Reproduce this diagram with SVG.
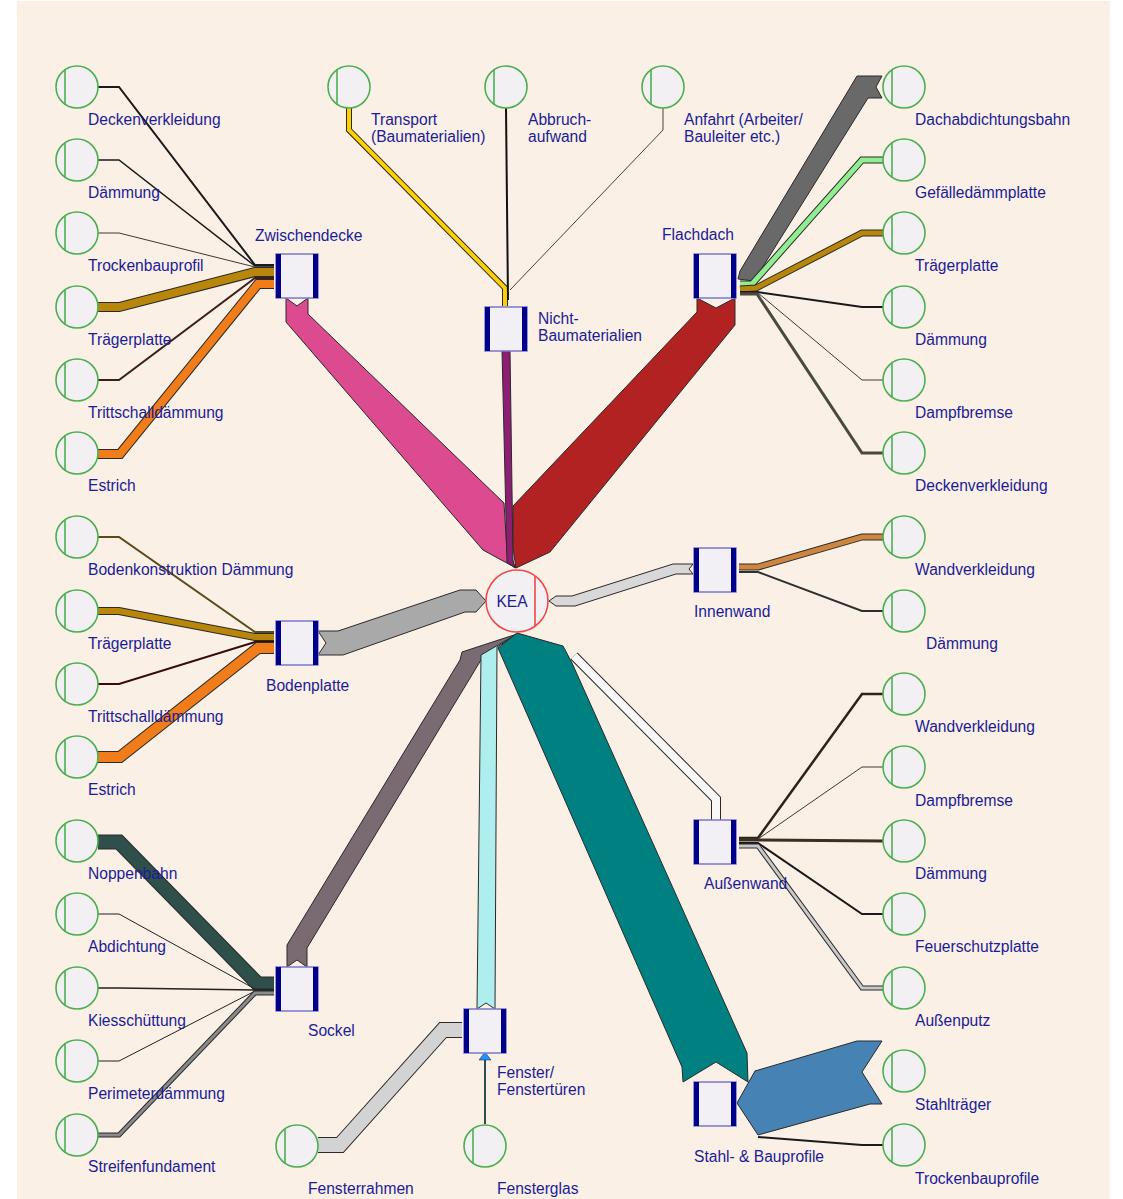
<svg xmlns="http://www.w3.org/2000/svg" width="1123" height="1199" viewBox="0 0 1123 1199">
<style>
.src{fill:#F2F0F3;stroke:#4CAF50;stroke-width:1.6}
.ch{stroke:#4CAF50;stroke-width:1.6}
.kea{fill:#F2F0F3;stroke:#F04848;stroke-width:1.6}
.kch{stroke:#F04848;stroke-width:1.6}
.box{fill:#F2F0F4;stroke:#7878CC;stroke-width:1.5}
.bar{fill:#00008B}
.t{font-family:"Liberation Sans",Arial,sans-serif;font-size:15.6px;fill:#1C1C96}
.ol{fill:none;stroke:#2A2A2A;stroke-linejoin:miter;stroke-miterlimit:10}
.fl{fill:none;stroke-linejoin:miter;stroke-miterlimit:10}
.bd{stroke:#2A2A2A;stroke-width:1;stroke-linejoin:miter}
</style>
<defs>
<g id="sc"><circle class="src" cx="0" cy="0" r="21"/><line class="ch" x1="-12" y1="-17.2" x2="-12" y2="17.2"/></g>
<g id="bx"><rect class="box" x="0" y="0" width="42" height="44"/><rect class="bar" x="0" y="0" width="5" height="44"/><rect class="bar" x="37" y="0" width="5" height="44"/></g>
</defs>
<rect x="0" y="0" width="1123" height="1199" fill="#FFFFFF"/>
<rect x="17" y="1" width="1093" height="1198" fill="#FAF0E6"/>

<g id="connectors">
<!-- Zwischendecke inputs -->
<polyline class="fl" points="98,87 119,87 255,265 274,265" stroke="#1A1A1A" stroke-width="2"/>
<polyline class="fl" points="98,160 119,160 255,266 274,266" stroke="#1A1A1A" stroke-width="1.5"/>
<polyline class="fl" points="98,233 119,233 255,267 274,267" stroke="#3A3A3A" stroke-width="1"/>
<polyline class="ol" points="98,307 119,307 255,272 274,272" stroke-width="10"/>
<polyline class="fl" points="98,307 119,307 255,272 274,272" stroke="#B8860B" stroke-width="8"/>
<polyline class="fl" points="98,380 119,380 255,278 274,278" stroke="#3B1E1E" stroke-width="2"/>
<polyline class="ol" points="98,454 120,454 258,284 274,284" stroke-width="10"/>
<polyline class="fl" points="98,454 120,454 258,284 274,284" stroke="#F07D1A" stroke-width="8"/>
<!-- Pink Zwischendecke -> KEA -->
<polygon class="bd" fill="#DC4A90" points="286,298 297,306 308,298 308,314 504,503 507,552 516,568 483,550 286,322"/>
<!-- Nicht-Baumaterialien inputs -->
<polyline class="ol" points="349,108 349,130 505,288 505,306" stroke-width="6"/>
<polyline class="fl" points="349,108 349,130 505,288 505,306" stroke="#FFD000" stroke-width="4"/>
<polyline class="fl" points="506,108 508,300" stroke="#111111" stroke-width="2"/>
<polyline class="fl" points="663,108 663,130 510,290" stroke="#444444" stroke-width="1"/>
<!-- Purple -->
<polygon class="bd" fill="#8E1E74" points="502,350 510,350 513,560 515,568 507,562"/>
<!-- Red Flachdach -> KEA -->
<polygon class="bd" fill="#B22222" points="697,298 716,308 735,298 735,325 550,552 516,568 513,548 513,506 697,312"/>
<!-- Flachdach inputs -->
<polygon class="bd" fill="#696969" points="857,76 882,76 876,87 882,98 868,98 754,281 738,279 740,271"/>
<polyline class="ol" points="883,160 862,160 752,284 740,284" stroke-width="7"/>
<polyline class="fl" points="883,160 862,160 752,284 740,284" stroke="#90EE90" stroke-width="5"/>
<polyline class="ol" points="883,233 862,233 756,288 740,289" stroke-width="7"/>
<polyline class="fl" points="883,233 862,233 756,288 740,289" stroke="#B8860B" stroke-width="5"/>
<polyline class="fl" points="883,307 862,307 757,292 740,292" stroke="#1A1A1A" stroke-width="2"/>
<polyline class="fl" points="883,380 862,380 758,293 740,293" stroke="#3A3A3A" stroke-width="1"/>
<polyline class="fl" points="883,453 862,453 757,294 740,294" stroke="#4A4A3A" stroke-width="3"/>
<!-- Bodenplatte inputs -->
<polyline class="fl" points="98,537 119,537 255,632 274,632" stroke="#5C4A1A" stroke-width="2"/>
<polyline class="ol" points="98,611 119,611 255,637 274,637" stroke-width="8"/>
<polyline class="fl" points="98,611 119,611 255,637 274,637" stroke="#B8860B" stroke-width="6"/>
<polyline class="fl" points="98,684 119,684 255,642 274,642" stroke="#3A0A0A" stroke-width="2"/>
<polyline class="ol" points="98,757 120,757 258,648 274,648" stroke-width="12"/>
<polyline class="fl" points="98,757 120,757 258,648 274,648" stroke="#F07D1A" stroke-width="10"/>
<!-- Gray Bodenplatte -> KEA -->
<polygon class="bd" fill="#A9A9A9" points="318,631 338,631 460,590 476,590 486,601 476,612 465,612 343,655 318,655 326,643"/>
<!-- Innenwand -> KEA -->
<polygon class="bd" fill="#D8D8D8" points="693,564 673,564 572,596 556,596 549,601 556,606 575,606 676,574 693,574 689,569"/>
<!-- Innenwand inputs -->
<polyline class="ol" points="883,537 862,537 758,567 739,567" stroke-width="7"/>
<polyline class="fl" points="883,537 862,537 758,567 739,567" stroke="#CD853F" stroke-width="5"/>
<polyline class="fl" points="883,611 862,611 758,572 739,572" stroke="#2F2F2F" stroke-width="2"/>
<!-- Sockel inputs -->
<polyline class="ol" points="98,842 119,842 258,984 274,984" stroke-width="15"/>
<polyline class="fl" points="98,842 119,842 258,984 274,984" stroke="#2F4F4A" stroke-width="13"/>
<polyline class="fl" points="98,914 119,914 255,989 274,989" stroke="#222222" stroke-width="1"/>
<polyline class="fl" points="98,988 119,988 255,990 274,990" stroke="#222222" stroke-width="1.5"/>
<polyline class="fl" points="98,1061 119,1061 255,991 274,991" stroke="#222222" stroke-width="1"/>
<polyline class="ol" points="98,1135 119,1135 255,993 274,993" stroke-width="5"/>
<polyline class="fl" points="98,1135 119,1135 255,993 274,993" stroke="#8A8A8A" stroke-width="3"/>
<!-- Sockel -> KEA -->
<polygon class="bd" fill="#7A6B73" points="287,967 297,960 307,967 307,948 484,655 517,634 462,652 460,660 287,945"/>
<!-- Fenster -> KEA -->
<polygon class="bd" fill="#AFEEEE" points="477,1009 486,1003 495,1009 497,647 517,634 481,655"/>
<!-- Fenster inputs -->
<polyline class="ol" points="318,1145 340,1145 443,1030 462,1030" stroke-width="16"/>
<polyline class="fl" points="318,1145 340,1145 443,1030 462,1030" stroke="#D3D3D3" stroke-width="14"/>
<polyline class="fl" points="485,1124 485,1060" stroke="#2F4F4F" stroke-width="2"/>
<polygon points="479,1060 485,1052 491,1060" fill="#1E90FF" stroke="#222" stroke-width="0.5"/>
<!-- Teal Stahl -> KEA -->
<polygon class="bd" fill="#008080" points="683,1082 716,1062 748,1082 747,1053 572,663 563,646 517,633 498,648 682,1067"/>
<!-- White Außenwand -> KEA -->
<polyline class="ol" points="716,820 716,799 574,656" stroke-width="10"/>
<polyline class="fl" points="716,820 716,799 574,656" stroke="#F8F8F8" stroke-width="8"/>
<!-- Außenwand inputs -->
<polyline class="fl" points="883,694 862,694 758,838 739,838" stroke="#2B2419" stroke-width="2.5"/>
<polyline class="fl" points="883,767 862,767 758,839 739,839" stroke="#3A3A3A" stroke-width="1"/>
<polyline class="fl" points="883,841 758,840 739,840" stroke="#3A3020" stroke-width="3"/>
<polyline class="fl" points="883,914 862,914 758,843 739,843" stroke="#1A1A1A" stroke-width="2"/>
<polyline class="ol" points="883,988 862,988 758,846 739,846" stroke-width="5"/>
<polyline class="fl" points="883,988 862,988 758,846 739,846" stroke="#C8C8C8" stroke-width="3"/>
<!-- Stahl inputs -->
<polygon class="bd" fill="#4682B4" points="857,1041 882,1041 862,1072 882,1104 870,1104 758,1135 737,1103 755,1071"/>
<polyline class="fl" points="883,1145 862,1145 758,1137" stroke="#1A1A1A" stroke-width="2"/>
</g>

<!-- Process nodes -->
<g id="zwischendecke"><use href="#bx" x="276" y="254"/><text class="t" x="255" y="241">Zwischendecke</text></g>
<g id="nichtbau"><use href="#bx" x="485" y="307"/><text class="t" x="538" y="324">Nicht-</text><text class="t" x="538" y="341">Baumaterialien</text></g>
<g id="flachdach"><use href="#bx" x="694" y="254"/><text class="t" x="662" y="240">Flachdach</text></g>
<g id="innenwand"><use href="#bx" x="694" y="548"/><text class="t" x="694" y="617">Innenwand</text></g>
<g id="bodenplatte"><use href="#bx" x="276" y="621"/><text class="t" x="266" y="691">Bodenplatte</text></g>
<g id="sockel"><use href="#bx" x="276" y="967"/><text class="t" x="308" y="1036">Sockel</text></g>
<g id="fenster"><use href="#bx" x="464" y="1009"/><text class="t" x="497" y="1078">Fenster/</text><text class="t" x="497" y="1095">Fenstertüren</text></g>
<g id="aussenwand"><use href="#bx" x="694" y="820"/><text class="t" x="704" y="889">Außenwand</text></g>
<g id="stahl"><use href="#bx" x="694" y="1082"/><text class="t" x="694" y="1162">Stahl- &amp; Bauprofile</text></g>

<!-- KEA -->
<g id="kea"><circle class="kea" cx="517" cy="601" r="31"/><line class="kch" x1="535" y1="576" x2="535" y2="626"/><text class="t" x="512" y="607" text-anchor="middle">KEA</text></g>

<!-- Left source nodes -->
<g id="l1"><use href="#sc" x="77" y="87"/><text class="t" x="88" y="125">Deckenverkleidung</text></g>
<g id="l2"><use href="#sc" x="77" y="160"/><text class="t" x="88" y="198">Dämmung</text></g>
<g id="l3"><use href="#sc" x="77" y="233"/><text class="t" x="88" y="271">Trockenbauprofil</text></g>
<g id="l4"><use href="#sc" x="77" y="307"/><text class="t" x="88" y="345">Trägerplatte</text></g>
<g id="l5"><use href="#sc" x="77" y="380"/><text class="t" x="88" y="418">Trittschalldämmung</text></g>
<g id="l6"><use href="#sc" x="77" y="453"/><text class="t" x="88" y="491">Estrich</text></g>
<g id="l7"><use href="#sc" x="77" y="537"/><text class="t" x="88" y="575">Bodenkonstruktion Dämmung</text></g>
<g id="l8"><use href="#sc" x="77" y="611"/><text class="t" x="88" y="649">Trägerplatte</text></g>
<g id="l9"><use href="#sc" x="77" y="684"/><text class="t" x="88" y="722">Trittschalldämmung</text></g>
<g id="l10"><use href="#sc" x="77" y="757"/><text class="t" x="88" y="795">Estrich</text></g>
<g id="l11"><use href="#sc" x="77" y="841"/><text class="t" x="88" y="879">Noppenbahn</text></g>
<g id="l12"><use href="#sc" x="77" y="914"/><text class="t" x="88" y="952">Abdichtung</text></g>
<g id="l13"><use href="#sc" x="77" y="988"/><text class="t" x="88" y="1026">Kiesschüttung</text></g>
<g id="l14"><use href="#sc" x="77" y="1061"/><text class="t" x="88" y="1099">Perimeterdämmung</text></g>
<g id="l15"><use href="#sc" x="77" y="1135"/><text class="t" x="88" y="1172">Streifenfundament</text></g>

<!-- Top source nodes -->
<g id="t1"><use href="#sc" x="349" y="87"/><text class="t" x="371" y="125">Transport</text><text class="t" x="371" y="142">(Baumaterialien)</text></g>
<g id="t2"><use href="#sc" x="506" y="87"/><text class="t" x="528" y="125">Abbruch-</text><text class="t" x="528" y="142">aufwand</text></g>
<g id="t3"><use href="#sc" x="663" y="87"/><text class="t" x="684" y="125">Anfahrt (Arbeiter/</text><text class="t" x="684" y="142">Bauleiter etc.)</text></g>

<!-- Right source nodes -->
<g id="r1"><use href="#sc" x="904" y="87"/><text class="t" x="915" y="125">Dachabdichtungsbahn</text></g>
<g id="r2"><use href="#sc" x="904" y="160"/><text class="t" x="915" y="198">Gefälledämmplatte</text></g>
<g id="r3"><use href="#sc" x="904" y="233"/><text class="t" x="915" y="271">Trägerplatte</text></g>
<g id="r4"><use href="#sc" x="904" y="307"/><text class="t" x="915" y="345">Dämmung</text></g>
<g id="r5"><use href="#sc" x="904" y="380"/><text class="t" x="915" y="418">Dampfbremse</text></g>
<g id="r6"><use href="#sc" x="904" y="453"/><text class="t" x="915" y="491">Deckenverkleidung</text></g>
<g id="r7"><use href="#sc" x="904" y="537"/><text class="t" x="915" y="575">Wandverkleidung</text></g>
<g id="r8"><use href="#sc" x="904" y="611"/><text class="t" x="926" y="649">Dämmung</text></g>
<g id="r9"><use href="#sc" x="904" y="694"/><text class="t" x="915" y="732">Wandverkleidung</text></g>
<g id="r10"><use href="#sc" x="904" y="767"/><text class="t" x="915" y="806">Dampfbremse</text></g>
<g id="r11"><use href="#sc" x="904" y="841"/><text class="t" x="915" y="879">Dämmung</text></g>
<g id="r12"><use href="#sc" x="904" y="914"/><text class="t" x="915" y="952">Feuerschutzplatte</text></g>
<g id="r13"><use href="#sc" x="904" y="988"/><text class="t" x="915" y="1026">Außenputz</text></g>
<g id="r14"><use href="#sc" x="904" y="1071"/><text class="t" x="915" y="1110">Stahlträger</text></g>
<g id="r15"><use href="#sc" x="904" y="1145"/><text class="t" x="915" y="1184">Trockenbauprofile</text></g>

<!-- Bottom source nodes -->
<g id="b1"><use href="#sc" x="297" y="1146"/><text class="t" x="308" y="1194">Fensterrahmen</text></g>
<g id="b2"><use href="#sc" x="485" y="1146"/><text class="t" x="497" y="1194">Fensterglas</text></g>
</svg>
